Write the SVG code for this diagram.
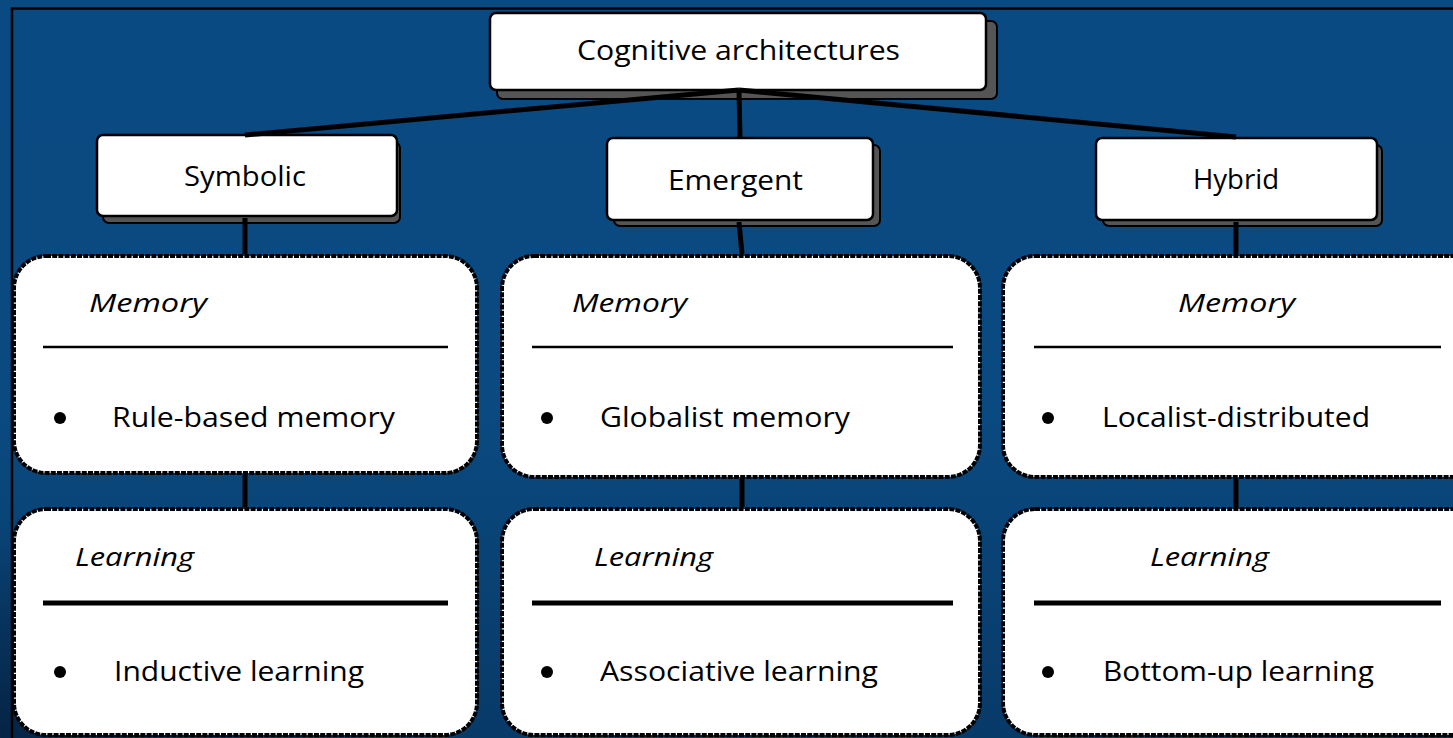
<svg xmlns="http://www.w3.org/2000/svg" width="1453" height="738" viewBox="0 0 1453 738">
<defs>
<linearGradient id="bg" x1="0" y1="0" x2="0" y2="1">
<stop offset="0" stop-color="#0a4a82"/>
<stop offset="0.55" stop-color="#0a4a80"/>
<stop offset="1" stop-color="#083a68"/>
</linearGradient>
<radialGradient id="shadeL" cx="0" cy="1" r="0.6">
<stop offset="0" stop-color="#041f3d" stop-opacity="0.8"/>
<stop offset="1" stop-color="#041f3d" stop-opacity="0"/>
</radialGradient>
<radialGradient id="shadeR" cx="1" cy="1" r="0.5">
<stop offset="0" stop-color="#041f3d" stop-opacity="0.7"/>
<stop offset="1" stop-color="#041f3d" stop-opacity="0"/>
</radialGradient>
</defs>
<style>
.box{fill:#fff;stroke:#000;stroke-width:2.5}
.shadow{fill:#555;stroke:#000;stroke-width:2}
.panel{fill:#fff;stroke:#000;stroke-width:4;stroke-dasharray:5 1.2}
.conn{stroke:#000;stroke-width:5;fill:none}
.t{font-family:"Open Sans","Liberation Sans",sans-serif;font-size:27px;fill:#000}
.h{font-family:"Open Sans","Liberation Sans",sans-serif;font-size:26px;font-style:italic;fill:#000}
.thin{stroke:#000;stroke-width:2.5}
.thick{stroke:#000;stroke-width:5}
</style>
<rect x="0" y="0" width="1453" height="738" fill="url(#bg)"/>
<rect x="0" y="380" width="700" height="358" fill="url(#shadeL)"/>
<rect x="900" y="420" width="553" height="318" fill="url(#shadeR)"/>
<path d="M12 738 V8.5 H1453" fill="none" stroke="#000" stroke-width="2.5"/>

<g id="root">
<rect class="shadow" x="497" y="21" width="500" height="78" rx="6"/>
<rect class="box" x="490" y="13" width="496" height="77" rx="6"/>
<text class="t" x="577" y="60" textLength="323" lengthAdjust="spacingAndGlyphs">Cognitive architectures</text>
</g>

<g id="symbolic">
<rect class="shadow" x="103" y="142" width="297" height="81" rx="6"/>
<rect class="box" x="97" y="135" width="300" height="81" rx="6"/>
<text class="t" x="184" y="186" textLength="122" lengthAdjust="spacingAndGlyphs">Symbolic</text>
</g>

<g id="emergent">
<rect class="shadow" x="614" y="145" width="266" height="81" rx="6"/>
<rect class="box" x="607" y="138" width="266" height="82" rx="6"/>
<text class="t" x="668" y="190" textLength="135" lengthAdjust="spacingAndGlyphs">Emergent</text>
</g>

<g id="hybrid">
<rect class="shadow" x="1103" y="145" width="279" height="81" rx="6"/>
<rect class="box" x="1096" y="138" width="281" height="82" rx="6"/>
<text class="t" x="1193" y="189" textLength="86" lengthAdjust="spacingAndGlyphs">Hybrid</text>
</g>

<g id="symbolic-memory">
<rect class="panel" x="14" y="256" width="463" height="217" rx="32"/>
<text class="h" x="89" y="312" textLength="118" lengthAdjust="spacingAndGlyphs">Memory</text>
<line class="thin" x1="43" y1="347" x2="448" y2="347"/>
<circle cx="60" cy="418" r="6"/>
<text class="t" x="112" y="427" textLength="283" lengthAdjust="spacingAndGlyphs">Rule-based memory</text>
</g>

<g id="symbolic-learning">
<rect class="panel" x="14" y="509" width="463" height="226" rx="32"/>
<text class="h" x="75" y="566" textLength="119" lengthAdjust="spacingAndGlyphs">Learning</text>
<line class="thick" x1="43" y1="603" x2="448" y2="603"/>
<circle cx="60" cy="672" r="6"/>
<text class="t" x="114" y="681" textLength="250" lengthAdjust="spacingAndGlyphs">Inductive learning</text>
</g>

<g id="emergent-memory">
<rect class="panel" x="502" y="256" width="478" height="221" rx="32"/>
<text class="h" x="572" y="312" textLength="115" lengthAdjust="spacingAndGlyphs">Memory</text>
<line class="thin" x1="532" y1="347" x2="953" y2="347"/>
<circle cx="547" cy="418" r="6"/>
<text class="t" x="600" y="427" textLength="250" lengthAdjust="spacingAndGlyphs">Globalist memory</text>
</g>

<g id="emergent-learning">
<rect class="panel" x="502" y="509" width="478" height="226" rx="32"/>
<text class="h" x="594" y="566" textLength="119" lengthAdjust="spacingAndGlyphs">Learning</text>
<line class="thick" x1="532" y1="603" x2="953" y2="603"/>
<circle cx="547" cy="672" r="6"/>
<text class="t" x="600" y="681" textLength="278" lengthAdjust="spacingAndGlyphs">Associative learning</text>
</g>

<g id="hybrid-memory">
<rect class="panel" x="1003" y="256" width="480" height="221" rx="32"/>
<text class="h" x="1178" y="312" textLength="117" lengthAdjust="spacingAndGlyphs">Memory</text>
<line class="thin" x1="1034" y1="347" x2="1441" y2="347"/>
<circle cx="1048" cy="418" r="6"/>
<text class="t" x="1102" y="427" textLength="268" lengthAdjust="spacingAndGlyphs">Localist-distributed</text>
</g>

<g id="hybrid-learning">
<rect class="panel" x="1003" y="509" width="480" height="226" rx="32"/>
<text class="h" x="1150" y="566" textLength="119" lengthAdjust="spacingAndGlyphs">Learning</text>
<line class="thick" x1="1034" y1="603" x2="1441" y2="603"/>
<circle cx="1048" cy="672" r="6"/>
<text class="t" x="1103" y="681" textLength="271" lengthAdjust="spacingAndGlyphs">Bottom-up learning</text>
</g>

<g id="connectors">
<line class="conn" x1="739" y1="90" x2="245" y2="135"/>
<line class="conn" x1="739" y1="90" x2="740" y2="137"/>
<line class="conn" x1="739" y1="90" x2="1236" y2="137"/>
<line class="conn" x1="245" y1="218" x2="245" y2="254"/>
<line class="conn" x1="739" y1="222" x2="742" y2="254"/>
<line class="conn" x1="1236" y1="222" x2="1236" y2="254"/>
<line class="conn" x1="245" y1="475" x2="245" y2="507"/>
<line class="conn" x1="742" y1="479" x2="742" y2="507"/>
<line class="conn" x1="1236" y1="479" x2="1236" y2="507"/>
</g>
</svg>
